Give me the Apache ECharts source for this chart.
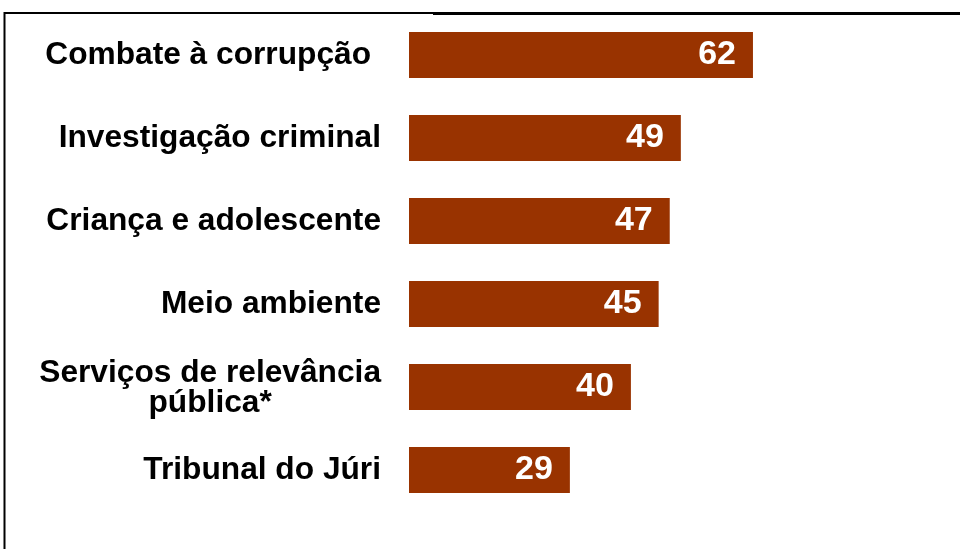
<!DOCTYPE html>
<html>
<head>
<meta charset="utf-8">
<script src="https://cdn.jsdelivr.net/npm/echarts@6/dist/echarts.min.js"></script>
<style>html,body{margin:0;padding:0;background:#fff}#c{width:960px;height:549px}</style>
</head>
<body>
<div id="c"></div>
<script>
const categories = ["Combate à corrupção", "Investigação criminal", "Criança e adolescente", "Meio ambiente", "Serviços de relevância\npública*", "Tribunal do Júri"];
const values = [62, 49, 47, 45, 40, 29];

const chart = echarts.init(document.getElementById('c'), null, {renderer: 'canvas'});
chart.setOption({
  animation: false,
  backgroundColor: '#ffffff',
  grid: {left: 409, top: 13.5, height: 498, width: 499.3, containLabel: false},
  xAxis: {type: 'value', min: 0, max: 90, show: false},
  yAxis: {
    type: 'category',
    data: categories.slice().reverse(),
    axisLine: {show: false}, axisTick: {show: false}, splitLine: {show: false},
    axisLabel: {
      margin: 28,
      color: '#000',
      fontFamily: 'Liberation Sans, Arial, sans-serif',
      fontWeight: 'bold',
      fontSize: 31.7,
      lineHeight: 30,
      formatter: function (v) {
        if (v.indexOf('\n') >= 0) {
          return v.split('\n').map(s => '{c|' + s + '}').join('\n');
        }
        if (v === categories[0]) return v + '{p|}';
        return v;
      },
      rich: {
        c: {align: 'center', fontSize: 31.7, fontWeight: 'bold', lineHeight: 30, color: '#000', fontFamily: 'Liberation Sans, Arial, sans-serif', padding: [3, 0, 0, 0]},
        p: {width: 10}
      }
    }
  },
  series: [{
    type: 'bar',
    data: values.slice().reverse(),
    barWidth: 46,
    itemStyle: {color: '#993300'},
    label: {
      show: true,
      position: 'insideRight',
      distance: 17,
      color: '#fff',
      fontFamily: 'Liberation Sans, Arial, sans-serif',
      fontWeight: 'bold',
      fontSize: 34
    }
  }],
  graphic: [
    {type: 'line', shape: {x1: 4, y1: 13, x2: 433, y2: 13}, style: {stroke: '#000', lineWidth: 2}},
    {type: 'line', shape: {x1: 433, y1: 13.5, x2: 960, y2: 13.5}, style: {stroke: '#000', lineWidth: 3}},
    {type: 'line', shape: {x1: 4.5, y1: 12, x2: 4.5, y2: 549}, style: {stroke: '#000', lineWidth: 2}}
  ]
});
</script>
</body>
</html>
